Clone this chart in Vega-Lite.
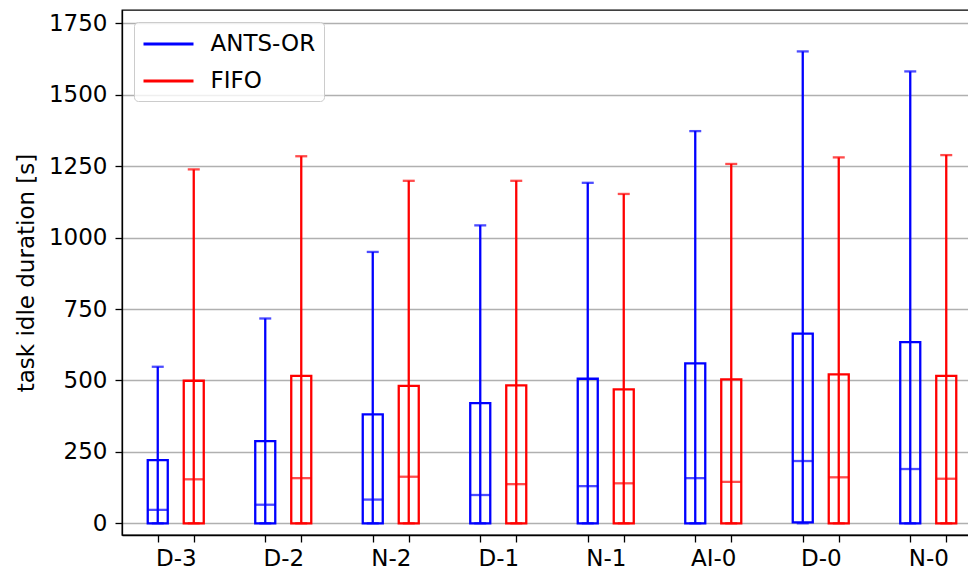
{
  "$schema": "https://vega.github.io/schema/vega-lite/v6.json",
  "autosize": {"type": "none"},
  "padding": {"left": 122, "top": 10, "right": 0, "bottom": 38},
  "width": 860,
  "height": 525,
  "background": "white",
  "config": {
    "font": "DejaVu Sans",
    "view": {"stroke": "black", "strokeWidth": 1.3},
    "axis": {
      "labelFont": "DejaVu Sans", "titleFont": "DejaVu Sans",
      "labelFontSize": 23, "titleFontSize": 23, "titleFontWeight": "normal",
      "labelColor": "black", "titleColor": "black",
      "domainColor": "black", "domainWidth": 1.3,
      "tickColor": "black", "tickWidth": 1.3, "tickSize": 7
    },
    "legend": {
      "labelFont": "DejaVu Sans", "labelFontSize": 23, "labelColor": "black"
    }
  },
  "data": {
    "values": [
      {"group": "D-3", "method": "ANTS-OR", "min": 0, "q1": 0, "median": 47, "q3": 221, "max": 548},
      {"group": "D-3", "method": "FIFO", "min": 0, "q1": 0, "median": 154, "q3": 499, "max": 1239},
      {"group": "D-2", "method": "ANTS-OR", "min": 0, "q1": 0, "median": 65, "q3": 288, "max": 717},
      {"group": "D-2", "method": "FIFO", "min": 0, "q1": 0, "median": 158, "q3": 516, "max": 1285},
      {"group": "N-2", "method": "ANTS-OR", "min": 0, "q1": 0, "median": 83, "q3": 381, "max": 950},
      {"group": "N-2", "method": "FIFO", "min": 0, "q1": 0, "median": 163, "q3": 481, "max": 1199},
      {"group": "D-1", "method": "ANTS-OR", "min": 0, "q1": 0, "median": 99, "q3": 421, "max": 1043},
      {"group": "D-1", "method": "FIFO", "min": 0, "q1": 0, "median": 137, "q3": 483, "max": 1199},
      {"group": "N-1", "method": "ANTS-OR", "min": 0, "q1": 0, "median": 130, "q3": 506, "max": 1192},
      {"group": "N-1", "method": "FIFO", "min": 0, "q1": 0, "median": 140, "q3": 469, "max": 1153},
      {"group": "AI-0", "method": "ANTS-OR", "min": 0, "q1": 0, "median": 158, "q3": 560, "max": 1373},
      {"group": "AI-0", "method": "FIFO", "min": 0, "q1": 0, "median": 145, "q3": 504, "max": 1258},
      {"group": "D-0", "method": "ANTS-OR", "min": 0, "q1": 3, "median": 218, "q3": 664, "max": 1652},
      {"group": "D-0", "method": "FIFO", "min": 0, "q1": 0, "median": 161, "q3": 521, "max": 1281},
      {"group": "N-0", "method": "ANTS-OR", "min": 0, "q1": 0, "median": 190, "q3": 634, "max": 1582},
      {"group": "N-0", "method": "FIFO", "min": 0, "q1": 0, "median": 156, "q3": 516, "max": 1289}
    ]
  },
  "encoding": {
    "x": {
      "field": "group", "type": "nominal", "sort": null,
      "scale": {"paddingInner": 0, "paddingOuter": 0},
      "title": null
    },
    "xOffset": {
      "field": "method", "type": "nominal",
      "scale": {"paddingInner": 0.444, "paddingOuter": 0.715}
    },
    "color": {
      "field": "method", "type": "nominal",
      "scale": {"domain": ["ANTS-OR", "FIFO"], "range": ["#0000ff", "#ff0000"]},
      "legend": {
        "title": null, "orient": "top-left", "offset": 12,
        "symbolType": "M-2,0H2", "symbolSize": 625, "symbolStrokeWidth": 2.8,
        "symbolOpacity": 1, "symbolOffset": 12.5,
        "labelOffset": 28, "padding": 8, "rowPadding": 11,
        "fillColor": "rgba(255,255,255,0.8)", "strokeColor": "#cccccc", "cornerRadius": 4
      }
    }
  },
  "resolve": {"axis": {"x": "independent"}},
  "layer": [
    {
      "mark": {"type": "rule", "strokeWidth": 2.3},
      "encoding": {
        "x": {
          "field": "group", "type": "nominal", "sort": null,
          "scale": {"paddingInner": 0, "paddingOuter": 0},
          "title": null,
          "axis": {"orient": "bottom", "tickOffset": -18, "labelOffset": 18, "labelAngle": 0, "labelPadding": 5, "grid": false}
        },
        "y": {
          "field": "min", "type": "quantitative",
          "scale": {"domain": [-41, 1797], "nice": false, "zero": false},
          "axis": {
            "values": [0, 250, 500, 750, 1000, 1250, 1500, 1750],
            "format": "d",
            "grid": true, "gridColor": "#b0b0b0", "gridWidth": 1.6,
            "labelPadding": 8, "titlePadding": 10,
            "title": "task idle duration [s]"
          }
        },
        "y2": {"field": "max"}
      }
    },
    {
      "mark": {"type": "tick", "size": 12, "thickness": 2.3, "orient": "horizontal"},
      "encoding": {
        "x": {
          "field": "group", "type": "nominal", "sort": null,
          "scale": {"paddingInner": 0, "paddingOuter": 0},
          "title": null,
          "axis": {"orient": "bottom", "tickOffset": 18, "labels": false, "domain": false, "grid": false}
        },
        "y": {"field": "max", "type": "quantitative"}
      }
    },
    {
      "mark": {"type": "tick", "size": 12, "thickness": 2.3, "orient": "horizontal"},
      "encoding": {
        "x": {"field": "group", "type": "nominal", "sort": null, "axis": null},
        "y": {"field": "min", "type": "quantitative"}
      }
    },
    {
      "mark": {"type": "bar", "filled": false, "strokeWidth": 2.3},
      "encoding": {
        "x": {"field": "group", "type": "nominal", "sort": null, "axis": null},
        "y": {"field": "q1", "type": "quantitative"},
        "y2": {"field": "q3"}
      }
    },
    {
      "mark": {"type": "tick", "size": 20, "thickness": 2.3, "orient": "horizontal"},
      "encoding": {
        "x": {"field": "group", "type": "nominal", "sort": null, "axis": null},
        "y": {"field": "median", "type": "quantitative"}
      }
    }
  ]
}
